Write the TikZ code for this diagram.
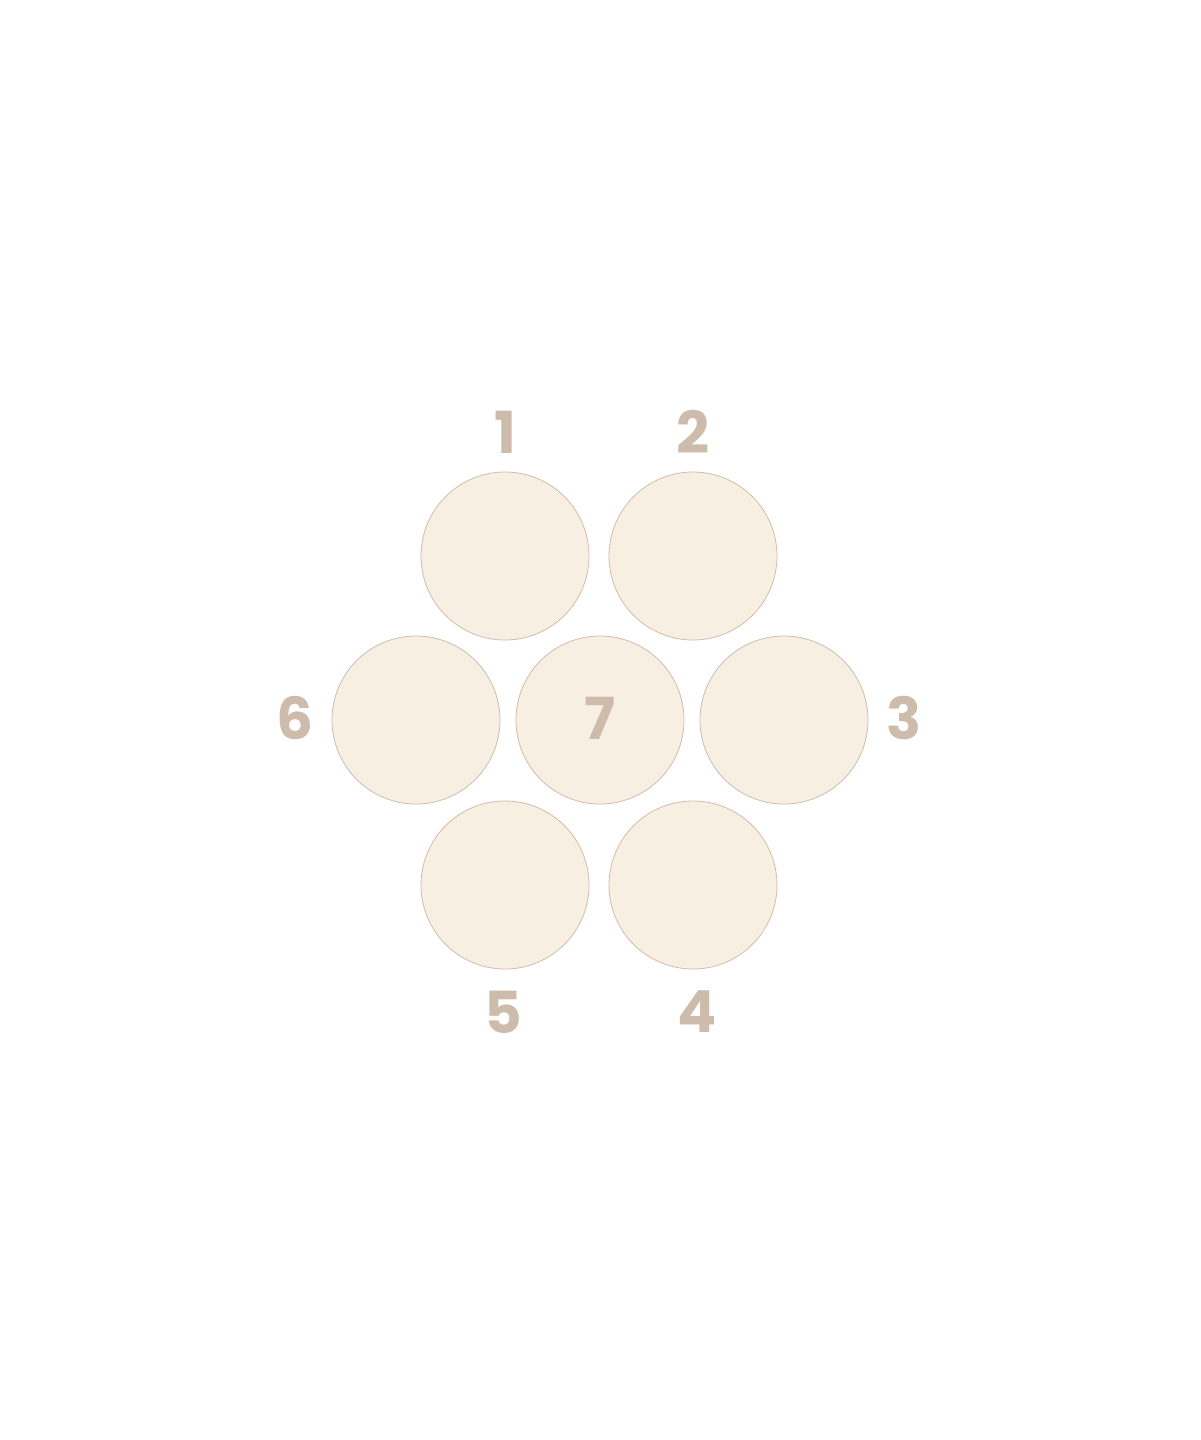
\documentclass[tikz,border=0pt]{standalone}
\usepackage{fontspec}
\setmainfont{Poppins}[UprightFont=* Bold, BoldFont=* Bold]
\definecolor{cfill}{HTML}{F7EFE2}
\definecolor{cline}{HTML}{D3BCAA}
\definecolor{ctext}{HTML}{CDBCAC}
\begin{document}
\begin{tikzpicture}[x=1pt,y=-1pt,
  disc/.style={circle,draw=cline,fill=cfill,line width=0.8pt,minimum size=168pt,inner sep=0pt},
  num/.style={text=ctext,font=\fontsize{58}{58}\selectfont,inner sep=0pt,anchor=center}]
\useasboundingbox (0,0) rectangle (1200,1440);
\node[disc] (c1) at (505,556) {};
\node[disc] (c2) at (693,556) {};
\node[disc] (c6) at (416,720) {};
\node[disc] (c7) at (600,720) {};
\node[disc] (c3) at (784,720) {};
\node[disc] (c5) at (505,885) {};
\node[disc] (c4) at (693,885) {};
\node[num] (l1) at (505,432) {1};
\node[num] (l2) at (693,432) {2};
\node[num] (l6) at (295,718) {6};
\node[num] (l7) at (600,718) {7};
\node[num] (l3) at (904,718) {3};
\node[num] (l5) at (503,1012) {5};
\node[num] (l4) at (697,1012) {4};
\end{tikzpicture}
\end{document}
